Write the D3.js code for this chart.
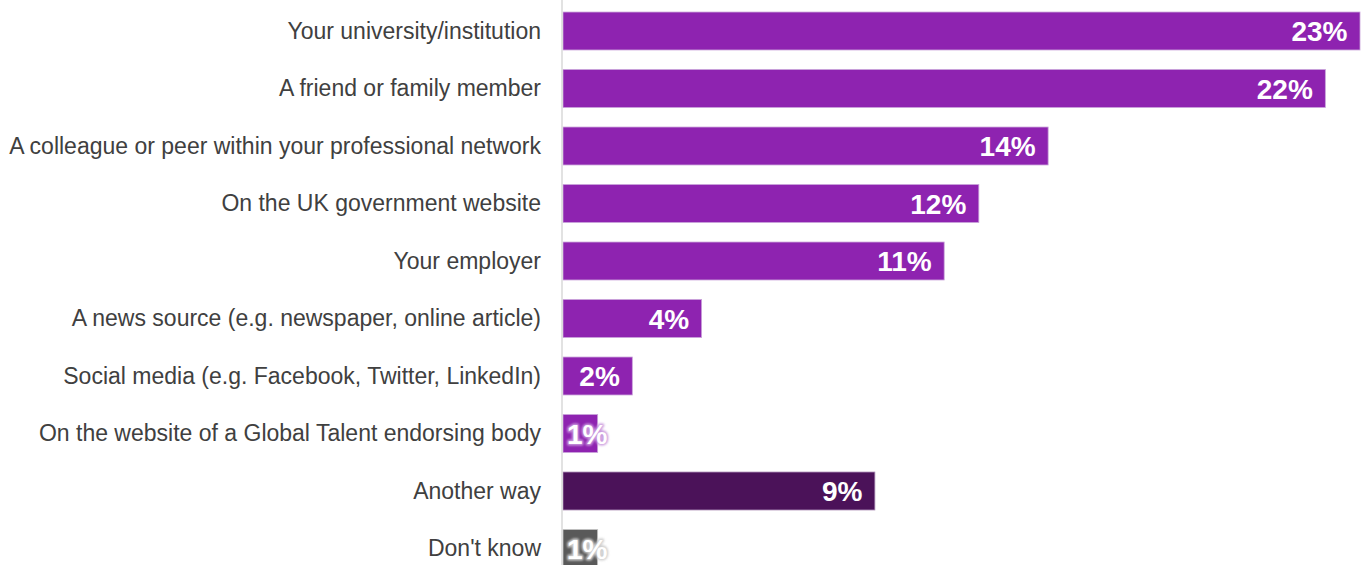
<!DOCTYPE html>
<html>
<head>
<meta charset="utf-8">
<script src="https://cdn.jsdelivr.net/npm/d3@7"></script>
<style>
  html, body { margin: 0; padding: 0; background: #fff; }
  svg { display: block; }
</style>
</head>
<body>
<svg id="chart" width="1365" height="565"></svg>
<script>
// Where respondents heard about the route (share of respondents, %)
const categories = [
  "Your university/institution",
  "A friend or family member",
  "A colleague or peer within your professional network",
  "On the UK government website",
  "Your employer",
  "A news source (e.g. newspaper, online article)",
  "Social media (e.g. Facebook, Twitter, LinkedIn)",
  "On the website of a Global Talent endorsing body",
  "Another way",
  "Don't know"
];
const values = [23, 22, 14, 12, 11, 4, 2, 1, 9, 1];
const groups = ["main", "main", "main", "main", "main", "main", "main", "main", "other", "dk"];

const fills = { main: "#8e23b0", other: "#4b1259", dk: "#595959" };
const edges = { main: "#c9a3da", other: "#a98ab3", dk: "#c4c4c4" };
const halos = { main: "#c99ade", other: "#a98ab3", dk: "#cfcfcf" };

const svg = d3.select("#chart");
const axisX = 562;

// soft glow used behind labels that spill past their bar
const defs = svg.append("defs");
defs.append("filter")
  .attr("id", "soft")
  .attr("x", "-20%").attr("y", "-20%").attr("width", "140%").attr("height", "140%")
  .append("feGaussianBlur").attr("stdDeviation", 0.9);

const x = d3.scaleLinear().domain([0, 23]).range([axisX + 1, 1360]);
const y = d3.scaleBand()
  .domain(categories)
  .range([2.25, 577.25])
  .paddingInner(0.34)
  .paddingOuter(0.17);

const rows = categories.map((c, i) => ({ cat: c, v: values[i], g: groups[i] }));

// bars
svg.append("g").selectAll("rect")
  .data(rows)
  .join("rect")
  .attr("x", x(0))
  .attr("y", d => y(d.cat))
  .attr("width", d => x(d.v) - x(0))
  .attr("height", y.bandwidth())
  .attr("fill", d => fills[d.g])
  .attr("stroke", d => edges[d.g])
  .attr("stroke-width", 0.8);

// category axis line
svg.append("line")
  .attr("x1", axisX).attr("x2", axisX)
  .attr("y1", 0).attr("y2", 565)
  .attr("stroke", "#d9d9d9")
  .attr("stroke-width", 1.5);

// category labels
svg.append("g").selectAll("text")
  .data(rows)
  .join("text")
  .attr("x", 541)
  .attr("y", d => y(d.cat) + y.bandwidth() / 2)
  .attr("dy", "0.33em")
  .attr("text-anchor", "end")
  .attr("font-family", "'Liberation Sans', Arial, sans-serif")
  .attr("font-size", 23)
  .attr("fill", "#404040")
  .text(d => d.cat);

// value labels, right-aligned inside each bar; short bars keep the label at the bar start
const labelFont = sel => sel
  .attr("y", d => y(d.cat) + y.bandwidth() / 2)
  .attr("dy", "0.36em")
  .attr("text-anchor", "end")
  .attr("font-family", "'Liberation Sans', Arial, sans-serif")
  .attr("font-weight", "bold")
  .attr("font-size", 28)
  .text(d => d.v + "%");

const haloG = svg.append("g");
const vl = svg.append("g").selectAll("text")
  .data(rows)
  .join("text")
  .call(labelFont)
  .attr("fill", "#ffffff");

vl.each(function (d) {
  const w = this.getComputedTextLength();
  const end = Math.max(x(0) + 4 + w, x(d.v) - 12.5);
  d3.select(this).attr("x", end);
  if (end > x(d.v)) {
    haloG.append("text")
      .datum(d)
      .call(labelFont)
      .attr("x", end)
      .attr("fill", halos[d.g])
      .attr("stroke", halos[d.g])
      .attr("stroke-width", 3.2)
      .attr("stroke-linejoin", "round")
      .attr("filter", "url(#soft)");
  }
});
</script>
</body>
</html>
